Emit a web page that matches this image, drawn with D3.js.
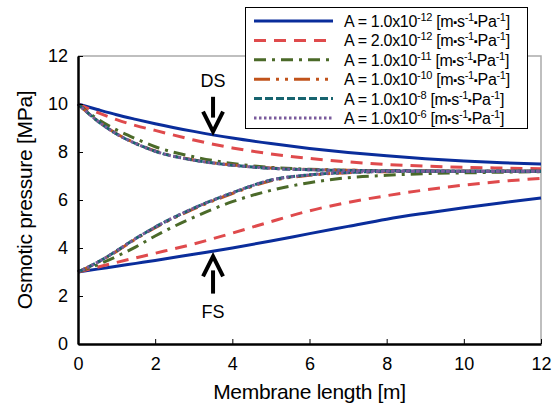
<!DOCTYPE html>
<html>
<head>
<meta charset="utf-8">
<script src="https://cdn.jsdelivr.net/npm/d3@7"></script>
<style>
  body { margin: 0; background: #fff; }
  svg { font-family: Arial, "Liberation Sans", sans-serif; }
</style>
</head>
<body>
<div id="app"></div>
<script>
// membrane positions [m]
const xs = [0, 0.5, 1, 1.5, 2, 3, 4, 5, 6, 7, 8, 9, 10, 11, 12];

// draw solution (DS) and feed solution (FS) osmotic pressure [MPa]
const dsA12 = [10, 9.77, 9.55, 9.36, 9.18, 8.86, 8.58, 8.35, 8.15, 7.98, 7.84, 7.72, 7.62, 7.55, 7.5];
const fsA12 = [3.0, 3.12, 3.24, 3.36, 3.48, 3.74, 4.0, 4.29, 4.6, 4.9, 5.2, 5.45, 5.68, 5.89, 6.08];
const dsA12x2 = [10, 9.65, 9.35, 9.1, 8.9, 8.5, 8.17, 7.92, 7.73, 7.59, 7.48, 7.41, 7.36, 7.33, 7.3];
const fsA12x2 = [3.0, 3.2, 3.4, 3.59, 3.78, 4.17, 4.62, 5.1, 5.55, 5.9, 6.18, 6.42, 6.62, 6.78, 6.9];
const dsA11 = [10, 9.38, 8.92, 8.55, 8.22, 7.8, 7.52, 7.36, 7.28, 7.24, 7.22, 7.21, 7.2, 7.2, 7.2];
const fsA11 = [3.0, 3.3, 3.65, 4.05, 4.5, 5.28, 5.93, 6.4, 6.72, 6.93, 7.03, 7.1, 7.13, 7.16, 7.18];
const dsA10 = [10, 9.31, 8.76, 8.36, 8.04, 7.67, 7.46, 7.33, 7.27, 7.24, 7.22, 7.21, 7.2, 7.2, 7.2];
const fsA10 = [3.0, 3.39, 3.86, 4.38, 4.85, 5.63, 6.27, 6.8, 7.03, 7.14, 7.18, 7.2, 7.2, 7.2, 7.2];
const dsA8 = [10, 9.3, 8.75, 8.35, 8.03, 7.66, 7.45, 7.32, 7.26, 7.23, 7.22, 7.21, 7.2, 7.2, 7.2];
const fsA8 = [3.0, 3.4, 3.88, 4.4, 4.87, 5.66, 6.3, 6.83, 7.05, 7.15, 7.19, 7.2, 7.2, 7.2, 7.2];
const dsA6 = [10, 9.3, 8.75, 8.35, 8.03, 7.66, 7.45, 7.32, 7.26, 7.23, 7.22, 7.21, 7.2, 7.2, 7.2];
const fsA6 = [3.0, 3.4, 3.88, 4.4, 4.87, 5.66, 6.3, 6.83, 7.05, 7.15, 7.19, 7.2, 7.2, 7.2, 7.2];

// legend labels: mantissa and exponent of A
const mantissas = ['1.0', '2.0', '1.0', '1.0', '1.0', '1.0'];
const exponents = ['-12', '-12', '-11', '-10', '-8', '-6'];

const xTicks = [0, 2, 4, 6, 8, 10, 12];
const yTicks = [0, 2, 4, 6, 8, 10, 12];

const series = [
  { ds: dsA12, fs: fsA12, color: '#0a2d9b', dash: null, width: 3 },
  { ds: dsA12x2, fs: fsA12x2, color: '#df4a4c', dash: '12,8', width: 3 },
  { ds: dsA11, fs: fsA11, color: '#4b6a29', dash: '12,6,3,6', width: 3 },
  { ds: dsA10, fs: fsA10, color: '#c1531b', dash: '16,6,3,6,3,6', width: 3 },
  { ds: dsA8, fs: fsA8, color: '#17646f', dash: '8,3', width: 3 },
  { ds: dsA6, fs: fsA6, color: '#7a5b9c', dash: '2.5,2.5', width: 3 },
].map((s, i) => ({ ...s, mant: mantissas[i], exp: exponents[i] }));

const width = 557;
const height = 405;
const margin = { top: 56, right: 16, bottom: 61, left: 78 };

const svg = d3.select('#app')
  .append('svg')
  .attr('width', width)
  .attr('height', height);

const x = d3.scaleLinear().domain([0, 12]).range([margin.left, width - margin.right]);
const y = d3.scaleLinear().domain([0, 12]).range([height - margin.bottom, margin.top]);

// top / right frame (gray)
svg.append('path')
  .attr('d', `M${x(0)},${y(12)}H${x(12)}V${y(0)}`)
  .attr('fill', 'none')
  .attr('stroke', '#aaa')
  .attr('stroke-width', 1.5);

// curves
const line = d3.line()
  .x((d) => x(d[0]))
  .y((d) => y(d[1]))
  .curve(d3.curveMonotoneX);

const curves = svg.append('g');
series.forEach((s) => {
  [s.ds, s.fs].forEach((vals) => {
    curves.append('path')
      .datum(xs.map((xv, i) => [xv, vals[i]]))
      .attr('d', line)
      .attr('fill', 'none')
      .attr('stroke', s.color)
      .attr('stroke-width', s.width)
      .attr('stroke-dasharray', s.dash);
  });
});

// axes
const xAxis = svg.append('g')
  .attr('transform', `translate(0,${y(0)})`)
  .call(d3.axisBottom(x).tickValues(xTicks).tickSizeInner(-5).tickSizeOuter(0).tickPadding(13));
const yAxis = svg.append('g')
  .attr('transform', `translate(${x(0)},0)`)
  .call(d3.axisLeft(y).tickValues(yTicks).tickSizeInner(-5).tickSizeOuter(0).tickPadding(10));

[xAxis, yAxis].forEach((g) => {
  g.select('.domain').attr('stroke', '#000').attr('stroke-width', 2.5);
  g.selectAll('.tick line').attr('stroke', '#000');
  g.selectAll('.tick text')
    .attr('font-size', 18)
    .attr('font-family', 'Arial, "Liberation Sans", sans-serif')
    .attr('fill', '#000');
});

svg.append('text')
  .attr('x', x(6))
  .attr('y', 399)
  .attr('text-anchor', 'middle')
  .attr('font-size', 21)
  .attr('letter-spacing', -0.3)
  .text('Membrane length [m]');

svg.append('text')
  .attr('transform', `translate(32,${y(6)}) rotate(-90)`)
  .attr('text-anchor', 'middle')
  .attr('font-size', 21)
  .attr('letter-spacing', -0.3)
  .text('Osmotic pressure [MPa]');

// arrows with DS / FS labels
const arrow = (xv, from, to) => {
  const x0 = x(xv);
  const y0 = y(from);
  const y1 = y(to);
  const dir = Math.sign(y1 - y0);
  svg.append('line')
    .attr('x1', x0).attr('x2', x0)
    .attr('y1', y0).attr('y2', y1 - dir * 14)
    .attr('stroke', '#000')
    .attr('stroke-width', 4);
  svg.append('path')
    .attr('d', `M${x0 - 10},${y1 - dir * 20}L${x0},${y1}L${x0 + 10},${y1 - dir * 20}`)
    .attr('fill', 'none')
    .attr('stroke', '#000')
    .attr('stroke-width', 4);
};
arrow(3.5, 10.3, 8.85);
arrow(3.5, 2.1, 3.65);

svg.append('text')
  .attr('x', x(3.5)).attr('y', y(10.7))
  .attr('text-anchor', 'middle').attr('font-size', 18)
  .text('DS');
svg.append('text')
  .attr('x', x(3.5)).attr('y', y(1.08))
  .attr('text-anchor', 'middle').attr('font-size', 18)
  .text('FS');

// legend
const legend = svg.append('g');
legend.append('rect')
  .attr('x', 245.5).attr('y', 7.5)
  .attr('width', 282).attr('height', 121)
  .attr('fill', '#fff')
  .attr('stroke', '#000')
  .attr('stroke-width', 1);

const rows = legend.selectAll('g.row')
  .data(series)
  .join('g')
  .attr('class', 'row')
  .attr('transform', (d, i) => `translate(0,${21 + i * 19.4})`);

rows.append('line')
  .attr('x1', 254).attr('x2', 333)
  .attr('stroke', (d) => d.color)
  .attr('stroke-width', (d) => d.width)
  .attr('stroke-dasharray', (d) => d.dash);

const label = rows.append('text')
  .attr('x', 344)
  .attr('y', 6)
  .attr('font-size', 16)
  .attr('letter-spacing', -0.3);
label.append('tspan').text((d) => `A = ${d.mant}x10`);
label.append('tspan').attr('font-size', 11).attr('dy', -6).text((d) => d.exp);
label.append('tspan').attr('dy', 6).text(' [m');
label.append('tspan').attr('font-size', 11).attr('dy', -1).text('\u25AA');
label.append('tspan').attr('dy', 1).text('s');
label.append('tspan').attr('font-size', 11).attr('dy', -6).text('-1');
label.append('tspan').attr('font-size', 11).attr('dy', 5).text('\u25AA');
label.append('tspan').attr('dy', 1).text('Pa');
label.append('tspan').attr('font-size', 11).attr('dy', -6).text('-1');
label.append('tspan').attr('dy', 6).text(']');
</script>
</body>
</html>
